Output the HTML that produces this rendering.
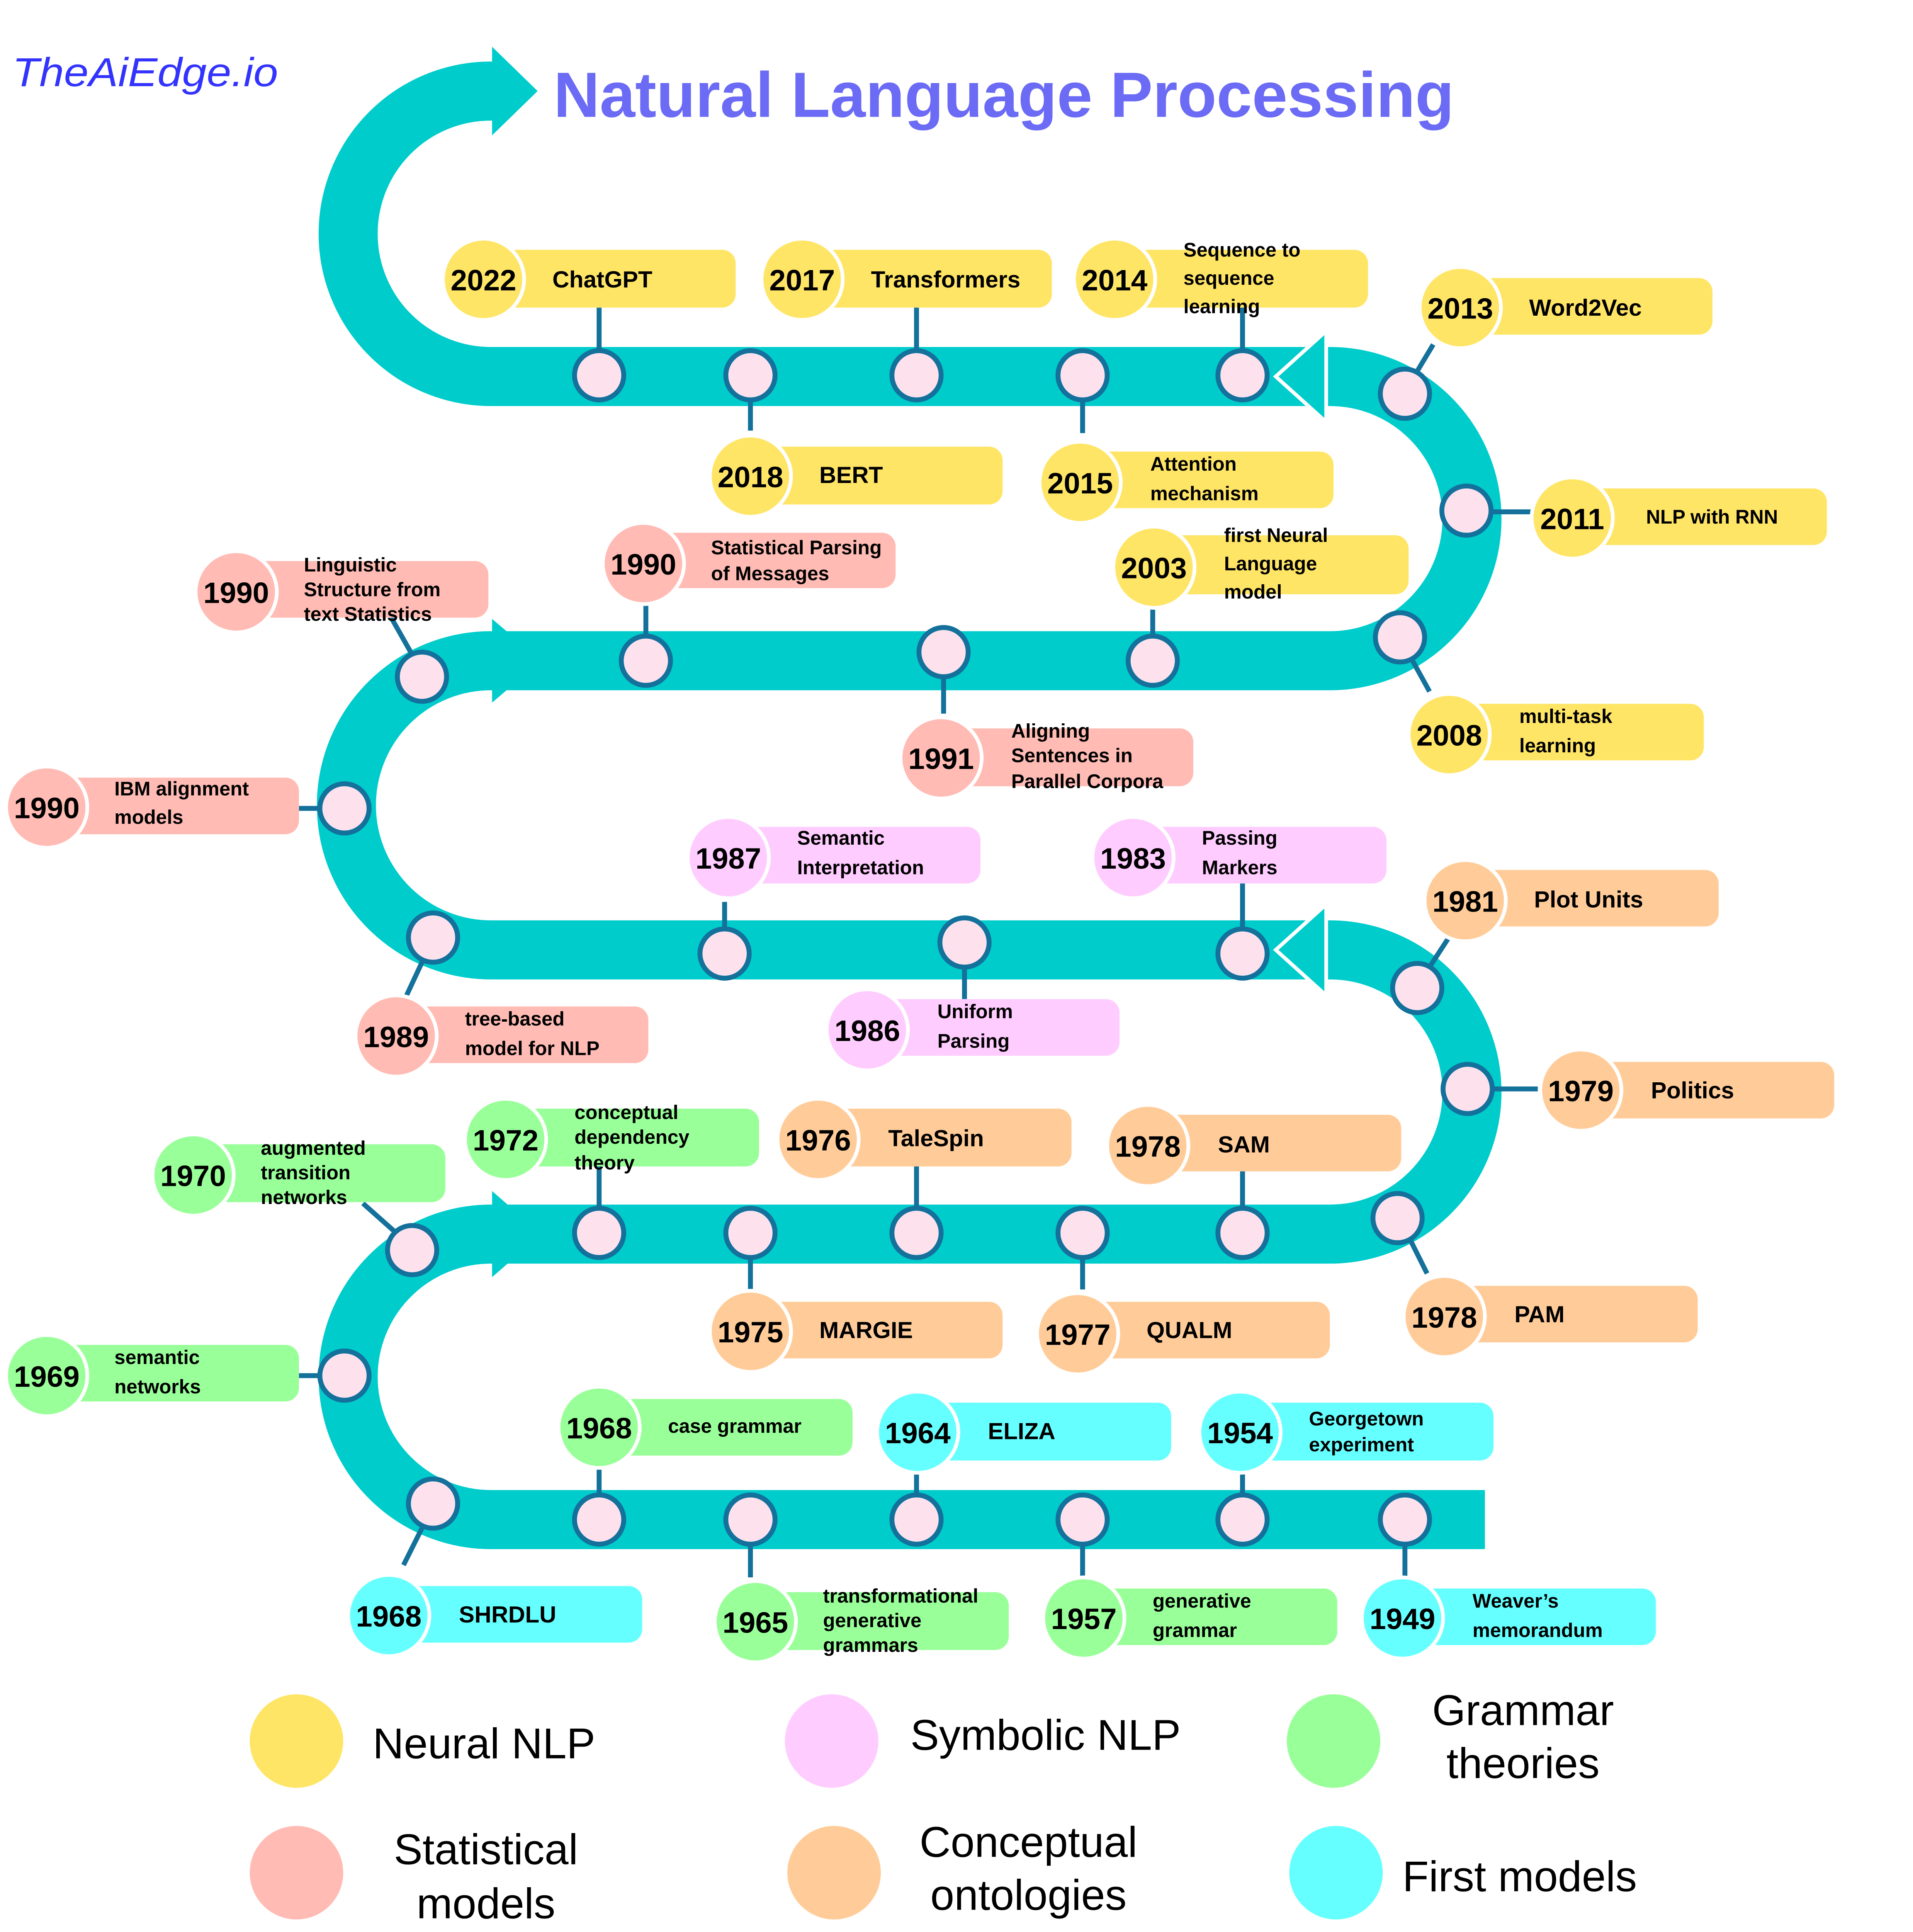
<!DOCTYPE html>
<html><head><meta charset="utf-8"><style>
html,body{margin:0;padding:0;background:#fff;overflow:hidden;}
svg{display:block;}
text{font-family:"Liberation Sans",Arial,sans-serif;}
.y{font-weight:bold;font-size:24px;text-anchor:middle;dominant-baseline:central;fill:#000;}
.l{font-weight:bold;font-size:19px;dominant-baseline:central;fill:#000;}
.s{font-weight:bold;font-size:16px;dominant-baseline:central;fill:#000;}
.g{font-size:35px;dominant-baseline:central;fill:#000;}
.n{fill:#FDE2EE;stroke:#13719B;stroke-width:4;}
.c{stroke:#13719B;stroke-width:4;fill:none;}
</style></head><body>
<svg width="4952" height="5200" viewBox="0 0 1555 1633" preserveAspectRatio="none" xmlns="http://www.w3.org/2000/svg">
<rect width="1555" height="1633" fill="#fff"/>
<text x="10" y="70" font-size="33" font-style="italic" fill="#3333FF" textLength="216" lengthAdjust="spacingAndGlyphs">TheAiEdge.io</text>
<text x="450" y="95" font-size="52" font-weight="bold" fill="#6B6BF5" textLength="732" lengthAdjust="spacingAndGlyphs">Natural Language Processing</text>

<path d="M1207 1235 H399 A116 116 0 0 1 399 1003 H1081 A115.5 115.5 0 0 0 1081 772 H399 A117.5 117.5 0 0 1 399 537 H1081 A115.5 115.5 0 0 0 1081 306 H399 A115.5 115.5 0 0 1 399 74 H402" fill="none" stroke="#00CCCC" stroke-width="48"/>
<polygon points="400,38 437,74 400,110" fill="#00CCCC"/>
<polygon points="400,503 440,537 400,571" fill="#00CCCC"/>
<polygon points="400,968 440,1003 400,1038" fill="#00CCCC"/>
<polygon points="1078,269 1037,306 1078,343" fill="#00CCCC" stroke="#fff" stroke-width="3"/>
<polygon points="1078,735 1037,772 1078,809" fill="#00CCCC" stroke="#fff" stroke-width="3"/>

<g class="c">
<line x1="487" y1="250" x2="487" y2="290"/><line x1="610" y1="320" x2="610" y2="350"/><line x1="745" y1="250" x2="745" y2="290"/><line x1="880" y1="320" x2="880" y2="352"/><line x1="1010" y1="245" x2="1010" y2="290"/>
<line x1="1150" y1="305" x2="1165" y2="280"/><line x1="1210" y1="416" x2="1248" y2="416"/><line x1="1146" y1="533" x2="1162" y2="562"/>
<line x1="335" y1="532" x2="318" y2="502"/><line x1="262" y1="657" x2="243" y2="657"/><line x1="525" y1="520" x2="525" y2="480"/><line x1="767" y1="548" x2="767" y2="580"/><line x1="937" y1="520" x2="937" y2="485"/>
<line x1="344" y1="780" x2="330" y2="810"/><line x1="589" y1="757" x2="589" y2="733"/><line x1="784" y1="785" x2="784" y2="812"/><line x1="1010" y1="757" x2="1010" y2="718"/>
<line x1="1162" y1="786" x2="1177" y2="763"/><line x1="1212" y1="885" x2="1250" y2="885"/><line x1="1146" y1="1007" x2="1160" y2="1035"/>
<line x1="322" y1="1002" x2="295" y2="978"/><line x1="262" y1="1118" x2="243" y2="1118"/><line x1="487" y1="985" x2="487" y2="945"/><line x1="610" y1="1020" x2="610" y2="1048"/><line x1="745" y1="985" x2="745" y2="945"/><line x1="880" y1="1020" x2="880" y2="1048"/><line x1="1010" y1="985" x2="1010" y2="952"/>
<line x1="344" y1="1240" x2="328" y2="1272"/><line x1="487" y1="1218" x2="487" y2="1183"/><line x1="610" y1="1253" x2="610" y2="1282"/><line x1="745" y1="1218" x2="745" y2="1187"/><line x1="880" y1="1253" x2="880" y2="1282"/><line x1="1010" y1="1218" x2="1010" y2="1187"/><line x1="1142" y1="1253" x2="1142" y2="1282"/>
</g>
<g class="n">
<circle cx="487" cy="305" r="20"/><circle cx="610" cy="305" r="20"/><circle cx="745" cy="305" r="20"/><circle cx="880" cy="305" r="20"/><circle cx="1010" cy="305" r="20"/>
<circle cx="1142" cy="320" r="20"/><circle cx="1192" cy="415" r="20"/><circle cx="1138" cy="518" r="20"/>
<circle cx="343" cy="550" r="20"/><circle cx="280" cy="657" r="20"/><circle cx="525" cy="537" r="20"/><circle cx="767" cy="530" r="20"/><circle cx="937" cy="537" r="20"/>
<circle cx="352" cy="762" r="20"/><circle cx="589" cy="775" r="20"/><circle cx="784" cy="766" r="20"/><circle cx="1010" cy="775" r="20"/>
<circle cx="1152" cy="803" r="20"/><circle cx="1193" cy="885" r="20"/><circle cx="1136" cy="990" r="20"/>
<circle cx="335" cy="1016" r="20"/><circle cx="280" cy="1118" r="20"/><circle cx="487" cy="1002" r="20"/><circle cx="610" cy="1002" r="20"/><circle cx="745" cy="1002" r="20"/><circle cx="880" cy="1002" r="20"/><circle cx="1010" cy="1002" r="20"/>
<circle cx="352" cy="1222" r="20"/><circle cx="487" cy="1235" r="20"/><circle cx="610" cy="1235" r="20"/><circle cx="745" cy="1235" r="20"/><circle cx="880" cy="1235" r="20"/><circle cx="1010" cy="1235" r="20"/><circle cx="1142" cy="1235" r="20"/>
</g>

<g>
<rect x="395" y="203" width="203" height="47" rx="11" fill="#FFE566"/><circle cx="393" cy="227" r="33" fill="#FFE566" stroke="#fff" stroke-width="3"/><text class="y" x="393" y="228">2022</text><text class="l" x="449" y="227">ChatGPT</text>
<rect x="655" y="203" width="200" height="47" rx="11" fill="#FFE566"/><circle cx="652" cy="227" r="33" fill="#FFE566" stroke="#fff" stroke-width="3"/><text class="y" x="652" y="228">2017</text><text class="l" x="708" y="227">Transformers</text>
<rect x="910" y="203" width="202" height="47" rx="11" fill="#FFE566"/><circle cx="906" cy="227" r="33" fill="#FFE566" stroke="#fff" stroke-width="3"/><text class="y" x="906" y="228">2014</text><text class="s" x="962" y="203">Sequence to</text><text class="s" x="962" y="226">sequence</text><text class="s" x="962" y="249">learning</text>
<rect x="1190" y="226" width="202" height="46" rx="11" fill="#FFE566"/><circle cx="1187" cy="250" r="33" fill="#FFE566" stroke="#fff" stroke-width="3"/><text class="y" x="1187" y="251">2013</text><text class="l" x="1243" y="250">Word2Vec</text>
<rect x="612" y="363" width="203" height="47" rx="11" fill="#FFE566"/><circle cx="610" cy="387" r="33" fill="#FFE566" stroke="#fff" stroke-width="3"/><text class="y" x="610" y="388">2018</text><text class="l" x="666" y="386">BERT</text>
<rect x="880" y="367" width="204" height="46" rx="11" fill="#FFE566"/><circle cx="878" cy="392" r="33" fill="#FFE566" stroke="#fff" stroke-width="3"/><text class="y" x="878" y="393">2015</text><text class="s" x="935" y="377">Attention</text><text class="s" x="935" y="401">mechanism</text>
<rect x="1280" y="397" width="205" height="46" rx="11" fill="#FFE566"/><circle cx="1278" cy="421" r="33" fill="#FFE566" stroke="#fff" stroke-width="3"/><text class="y" x="1278" y="422">2011</text><text class="s" x="1338" y="420">NLP with RNN</text>
<rect x="940" y="435" width="205" height="48" rx="11" fill="#FFE566"/><circle cx="938" cy="461" r="33" fill="#FFE566" stroke="#fff" stroke-width="3"/><text class="y" x="938" y="462">2003</text><text class="s" x="995" y="435">first Neural</text><text class="s" x="995" y="458">Language</text><text class="s" x="995" y="481">model</text>
<rect x="1180" y="572" width="205" height="46" rx="11" fill="#FFE566"/><circle cx="1178" cy="597" r="33" fill="#FFE566" stroke="#fff" stroke-width="3"/><text class="y" x="1178" y="598">2008</text><text class="s" x="1235" y="582">multi-task</text><text class="s" x="1235" y="606">learning</text>
<rect x="195" y="456" width="202" height="46" rx="11" fill="#FFBBB4"/><circle cx="192" cy="481" r="33" fill="#FFBBB4" stroke="#fff" stroke-width="3"/><text class="y" x="192" y="482">1990</text><text class="s" x="247" y="459" font-size="15">Linguistic</text><text class="s" x="247" y="479" font-size="15">Structure from</text><text class="s" x="247" y="499" font-size="15">text Statistics</text>
<rect x="525" y="433" width="203" height="45" rx="11" fill="#FFBBB4"/><circle cx="523" cy="458" r="33" fill="#FFBBB4" stroke="#fff" stroke-width="3"/><text class="y" x="523" y="459">1990</text><text class="s" x="578" y="445" font-size="15">Statistical Parsing</text><text class="s" x="578" y="466" font-size="15">of Messages</text>
<rect x="40" y="632" width="203" height="46" rx="11" fill="#FFBBB4"/><circle cx="38" cy="656" r="33" fill="#FFBBB4" stroke="#fff" stroke-width="3"/><text class="y" x="38" y="657">1990</text><text class="s" x="93" y="641">IBM alignment</text><text class="s" x="93" y="664">models</text>
<rect x="767" y="592" width="203" height="47" rx="11" fill="#FFBBB4"/><circle cx="765" cy="616" r="33" fill="#FFBBB4" stroke="#fff" stroke-width="3"/><text class="y" x="765" y="617">1991</text><text class="s" x="822" y="594" font-size="15">Aligning</text><text class="s" x="822" y="614" font-size="15">Sentences in</text><text class="s" x="822" y="635" font-size="15">Parallel Corpora</text>
<rect x="325" y="818" width="202" height="46" rx="11" fill="#FFBBB4"/><circle cx="322" cy="842" r="33" fill="#FFBBB4" stroke="#fff" stroke-width="3"/><text class="y" x="322" y="843">1989</text><text class="s" x="378" y="828">tree-based</text><text class="s" x="378" y="852">model for NLP</text>
<rect x="595" y="672" width="202" height="46" rx="11" fill="#FFCCFF"/><circle cx="592" cy="697" r="33" fill="#FFCCFF" stroke="#fff" stroke-width="3"/><text class="y" x="592" y="698">1987</text><text class="s" x="648" y="681">Semantic</text><text class="s" x="648" y="705">Interpretation</text>
<rect x="924" y="672" width="203" height="46" rx="11" fill="#FFCCFF"/><circle cx="921" cy="697" r="33" fill="#FFCCFF" stroke="#fff" stroke-width="3"/><text class="y" x="921" y="698">1983</text><text class="s" x="977" y="681">Passing</text><text class="s" x="977" y="705">Markers</text>
<rect x="707" y="812" width="203" height="46" rx="11" fill="#FFCCFF"/><circle cx="705" cy="837" r="33" fill="#FFCCFF" stroke="#fff" stroke-width="3"/><text class="y" x="705" y="838">1986</text><text class="s" x="762" y="822">Uniform</text><text class="s" x="762" y="846">Parsing</text>
<rect x="1193" y="707" width="204" height="46" rx="11" fill="#FFCC99"/><circle cx="1191" cy="732" r="33" fill="#FFCC99" stroke="#fff" stroke-width="3"/><text class="y" x="1191" y="733">1981</text><text class="l" x="1247" y="731">Plot Units</text>
<rect x="1288" y="863" width="203" height="46" rx="11" fill="#FFCC99"/><circle cx="1285" cy="886" r="33" fill="#FFCC99" stroke="#fff" stroke-width="3"/><text class="y" x="1285" y="887">1979</text><text class="l" x="1342" y="886">Politics</text>
<rect x="668" y="901" width="203" height="47" rx="11" fill="#FFCC99"/><circle cx="665" cy="926" r="33" fill="#FFCC99" stroke="#fff" stroke-width="3"/><text class="y" x="665" y="927">1976</text><text class="l" x="722" y="925">TaleSpin</text>
<rect x="935" y="906" width="204" height="46" rx="11" fill="#FFCC99"/><circle cx="933" cy="931" r="33" fill="#FFCC99" stroke="#fff" stroke-width="3"/><text class="y" x="933" y="932">1978</text><text class="l" x="990" y="930">SAM</text>
<rect x="612" y="1058" width="203" height="46" rx="11" fill="#FFCC99"/><circle cx="610" cy="1082" r="33" fill="#FFCC99" stroke="#fff" stroke-width="3"/><text class="y" x="610" y="1083">1975</text><text class="l" x="666" y="1081">MARGIE</text>
<rect x="878" y="1058" width="203" height="46" rx="11" fill="#FFCC99"/><circle cx="876" cy="1084" r="33" fill="#FFCC99" stroke="#fff" stroke-width="3"/><text class="y" x="876" y="1085">1977</text><text class="l" x="932" y="1081">QUALM</text>
<rect x="1176" y="1045" width="204" height="46" rx="11" fill="#FFCC99"/><circle cx="1174" cy="1070" r="33" fill="#FFCC99" stroke="#fff" stroke-width="3"/><text class="y" x="1174" y="1071">1978</text><text class="l" x="1231" y="1068">PAM</text>
<rect x="160" y="930" width="202" height="47" rx="11" fill="#99FF99"/><circle cx="157" cy="955" r="33" fill="#99FF99" stroke="#fff" stroke-width="3"/><text class="y" x="157" y="956">1970</text><text class="s" x="212" y="933" font-size="15">augmented</text><text class="s" x="212" y="953" font-size="15">transition</text><text class="s" x="212" y="973" font-size="15">networks</text>
<rect x="413" y="901" width="204" height="47" rx="11" fill="#99FF99"/><circle cx="411" cy="926" r="33" fill="#99FF99" stroke="#fff" stroke-width="3"/><text class="y" x="411" y="927">1972</text><text class="s" x="467" y="904" font-size="15">conceptual</text><text class="s" x="467" y="924" font-size="15">dependency</text><text class="s" x="467" y="945" font-size="15">theory</text>
<rect x="40" y="1093" width="203" height="46" rx="11" fill="#99FF99"/><circle cx="38" cy="1118" r="33" fill="#99FF99" stroke="#fff" stroke-width="3"/><text class="y" x="38" y="1119">1969</text><text class="s" x="93" y="1103">semantic</text><text class="s" x="93" y="1127">networks</text>
<rect x="490" y="1137" width="203" height="46" rx="11" fill="#99FF99"/><circle cx="487" cy="1160" r="33" fill="#99FF99" stroke="#fff" stroke-width="3"/><text class="y" x="487" y="1161">1968</text><text class="s" x="543" y="1159">case grammar</text>
<rect x="616" y="1294" width="204" height="47" rx="11" fill="#99FF99"/><circle cx="614" cy="1318" r="33" fill="#99FF99" stroke="#fff" stroke-width="3"/><text class="y" x="614" y="1319">1965</text><text class="s" x="669" y="1297" font-size="15">transformational</text><text class="s" x="669" y="1317" font-size="15">generative</text><text class="s" x="669" y="1337" font-size="15">grammars</text>
<rect x="883" y="1291" width="204" height="46" rx="11" fill="#99FF99"/><circle cx="881" cy="1315" r="33" fill="#99FF99" stroke="#fff" stroke-width="3"/><text class="y" x="881" y="1316">1957</text><text class="s" x="937" y="1301">generative</text><text class="s" x="937" y="1325">grammar</text>
<rect x="748" y="1140" width="204" height="47" rx="11" fill="#66FFFF"/><circle cx="746" cy="1164" r="33" fill="#66FFFF" stroke="#fff" stroke-width="3"/><text class="y" x="746" y="1165">1964</text><text class="l" x="803" y="1163">ELIZA</text>
<rect x="1010" y="1140" width="204" height="47" rx="11" fill="#66FFFF"/><circle cx="1008" cy="1164" r="33" fill="#66FFFF" stroke="#fff" stroke-width="3"/><text class="y" x="1008" y="1165">1954</text><text class="s" x="1064" y="1153" font-size="15">Georgetown</text><text class="s" x="1064" y="1174" font-size="15">experiment</text>
<rect x="318" y="1289" width="204" height="46" rx="11" fill="#66FFFF"/><circle cx="316" cy="1313" r="33" fill="#66FFFF" stroke="#fff" stroke-width="3"/><text class="y" x="316" y="1314">1968</text><text class="l" x="373" y="1312">SHRDLU</text>
<rect x="1142" y="1291" width="204" height="46" rx="11" fill="#66FFFF"/><circle cx="1140" cy="1315" r="33" fill="#66FFFF" stroke="#fff" stroke-width="3"/><text class="y" x="1140" y="1316">1949</text><text class="s" x="1197" y="1301">Weaver’s</text><text class="s" x="1197" y="1325">memorandum</text>
</g>

<circle cx="241" cy="1415" r="38" fill="#FFE566"/><text class="g" x="303" y="1417">Neural NLP</text>
<circle cx="676" cy="1415" r="38" fill="#FFCCFF"/><text class="g" x="740" y="1410">Symbolic NLP</text>
<circle cx="1084" cy="1415" r="38" fill="#99FF99"/><text class="g" x="1238" y="1390" text-anchor="middle">Grammar</text><text class="g" x="1238" y="1433" text-anchor="middle">theories</text>
<circle cx="241" cy="1522" r="38" fill="#FFBBB4"/><text class="g" x="395" y="1503" text-anchor="middle">Statistical</text><text class="g" x="395" y="1547" text-anchor="middle">models</text>
<circle cx="678" cy="1522" r="38" fill="#FFCC99"/><text class="g" x="836" y="1497" text-anchor="middle">Conceptual</text><text class="g" x="836" y="1540" text-anchor="middle">ontologies</text>
<circle cx="1086" cy="1522" r="38" fill="#66FFFF"/><text class="g" x="1140" y="1525">First models</text>
</svg>
</body></html>
